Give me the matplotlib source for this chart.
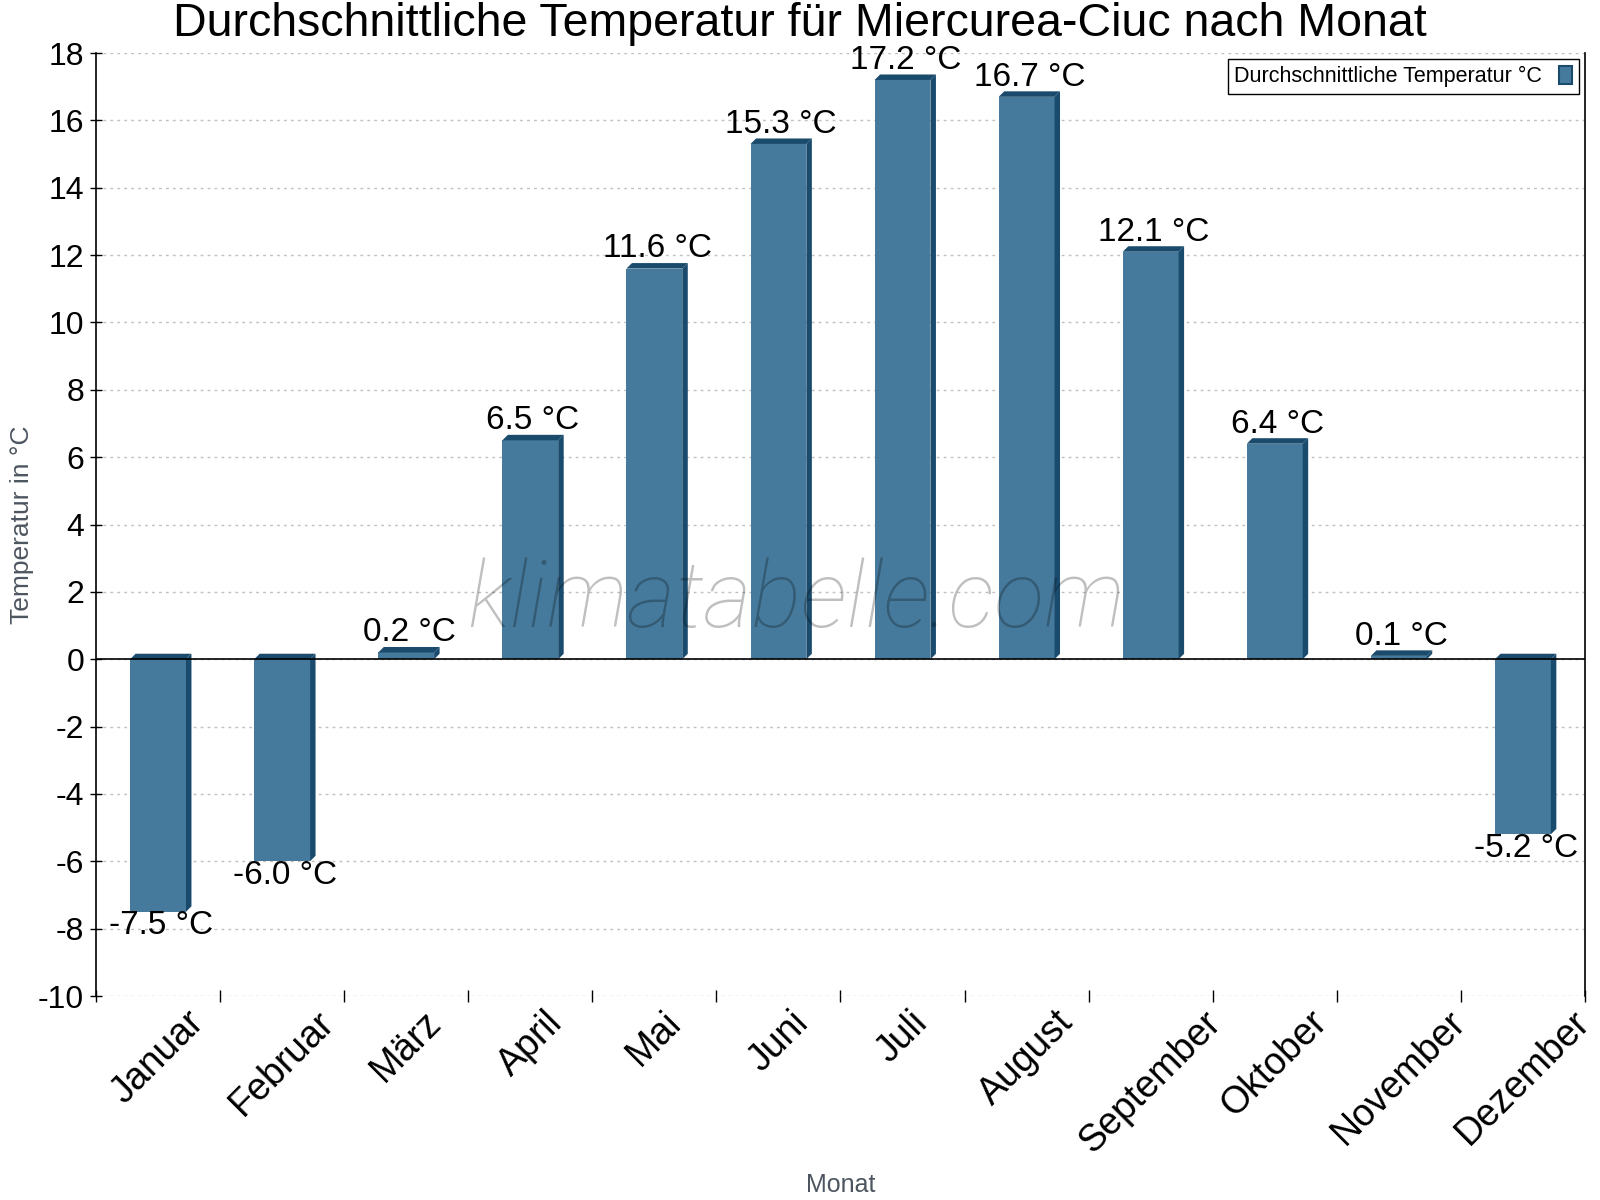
import numpy as np
import matplotlib.pyplot as plt
from matplotlib.patches import Polygon, Patch

# Daten
monate = ['Januar', 'Februar', 'März', 'April', 'Mai', 'Juni', 'Juli',
          'August', 'September', 'Oktober', 'November', 'Dezember']
temperaturen = [-7.5, -6.0, 0.2, 6.5, 11.6, 15.3, 17.2, 16.7, 12.1, 6.4, 0.1, -5.2]
y_ticks = list(range(-10, 19, 2))

farbe_front = '#467a9c'
farbe_seite = '#1a4b6d'

plt.rcParams['font.family'] = ['Liberation Sans', 'DejaVu Sans']
plt.rcParams['axes.unicode_minus'] = False

fig = plt.figure(figsize=(16, 12), dpi=100)
ax = fig.add_axes([0.06, 0.17, 0.9306, 0.7858])

x = np.arange(len(monate))
breite = 0.45
ax.set_xlim(-0.5, len(monate) - 0.5)
ax.set_ylim(-10, 18)

bars = ax.bar(x, temperaturen, width=breite, color=farbe_front, zorder=3)

# 3D-Effekt: Tiefe in Pixel -> Dateneinheiten
tiefe_px = 5.5
ax_w = fig.get_figwidth() * fig.dpi * ax.get_position().width
ax_h = fig.get_figheight() * fig.dpi * ax.get_position().height
dx = tiefe_px / (ax_w / len(monate))
dy = tiefe_px / (ax_h / 28)

for b in bars:
    x0 = b.get_x()
    x1 = x0 + b.get_width()
    y0 = min(b.get_y(), b.get_y() + b.get_height())
    y1 = max(b.get_y(), b.get_y() + b.get_height())
    seite = Polygon([(x1, y0), (x1, y1), (x1 + dx, y1 + dy), (x1 + dx, y0 + dy)],
                    closed=True, color=farbe_seite, zorder=3, lw=0)
    oben = Polygon([(x0, y1), (x1, y1), (x1 + dx, y1 + dy), (x0 + dx, y1 + dy)],
                   closed=True, color=farbe_seite, zorder=3, lw=0)
    ax.add_patch(seite)
    ax.add_patch(oben)

# Werte beschriften
for xi, t in zip(x, temperaturen):
    if t >= 0:
        ax.annotate(f'{t:.1f} °C', (xi + dx / 2, t), xytext=(0, 3), textcoords='offset points',
                    ha='center', va='bottom', fontsize=24, zorder=5)
    else:
        ax.annotate(f'{t:.1f} °C', (xi + dx / 2, t), xytext=(0, 1), textcoords='offset points',
                    ha='center', va='top', fontsize=24, zorder=5)

ax.axhline(0, color='black', lw=1.2, zorder=4)

# Achsen
ax.set_yticks(y_ticks)
ax.tick_params(axis='y', labelsize=23, direction='inout', length=9, width=1, pad=4)
ax.set_xticks(x)
ax.set_xticklabels(monate, rotation=45, ha='center', va='top', fontsize=27)
ax.tick_params(axis='x', which='major', length=0, pad=6)
ax.set_xticks(np.arange(-0.5, len(monate), 1), minor=True)
ax.tick_params(axis='x', which='minor', direction='inout', length=9, width=1)

ax.grid(axis='y', color='#c0c0c0', linestyle=(0, (2, 3)), lw=1, zorder=0)
ax.spines['top'].set_visible(False)
ax.spines['bottom'].set_visible(False)
ax.spines['left'].set_linewidth(1.2)
ax.spines['right'].set_linewidth(1.2)

ax.set_ylabel('Temperatur in °C', fontsize=19, color='#4d5660')
ax.yaxis.set_label_coords(-0.0416, 0.5)
ax.set_xlabel('Monat', fontsize=18, color='#4d5660')
ax.xaxis.set_label_coords(0.5, -0.188)

fig.suptitle('Durchschnittliche Temperatur für Miercurea-Ciuc nach Monat',
             fontsize=33.5, y=0.998, va='top')

# Wasserzeichen
ax.text(0.47, 0.418, 'klimatabelle.com', transform=ax.transAxes, fontsize=67,
        family='Roboto', fontweight='light', style='italic', color='black', alpha=0.25,
        ha='center', va='center', zorder=6)

leg = ax.legend(handles=[Patch(facecolor=farbe_front, edgecolor=farbe_seite, lw=1.5)],
                labels=['Durchschnittliche Temperatur °C'], loc='upper right',
                markerfirst=False, fontsize=15.5, fancybox=False, edgecolor='black',
                framealpha=1, handlelength=0.6, handleheight=0.9, borderaxespad=0.3,
                borderpad=0.3)
leg.get_frame().set_linewidth(1)

fig.savefig('out.png', dpi=100)
